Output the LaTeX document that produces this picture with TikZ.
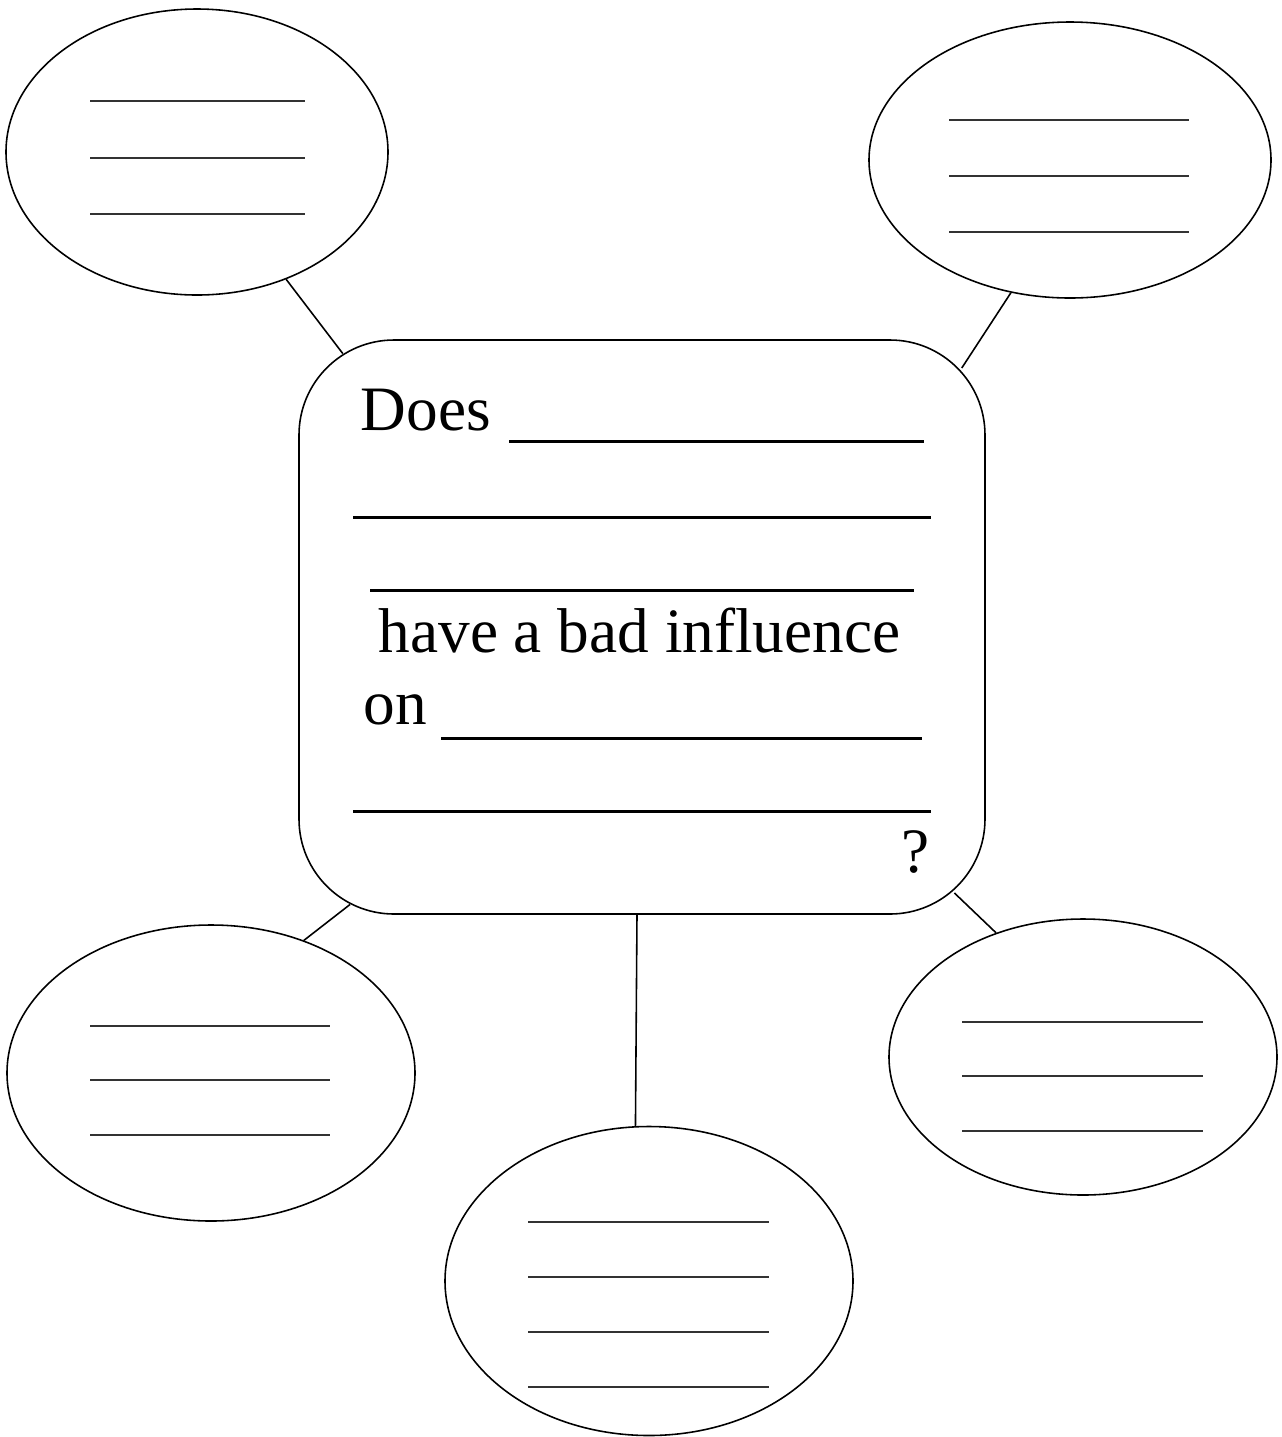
\documentclass[tikz,border=0pt]{standalone}
\usepackage{fontspec}
\setmainfont{Liberation Serif}
\usetikzlibrary{calc,shapes.geometric}

\begin{document}
\begin{tikzpicture}[
  blob/.style={draw, ellipse, inner sep=0pt, line width=0.45pt},
  qbox/.style={draw, rectangle, rounded corners=0.95cm, inner sep=0pt, line width=0.45pt,
    minimum width=6.86cm, minimum height=5.74cm},
  blank/.style={line width=0.45pt, black!80},
  fillin/.style={line width=0.85pt},
  words/.style={inner sep=0pt, anchor=base west, font=\fontsize{18}{22}\selectfont}
]
\useasboundingbox (0,0) rectangle (12.82,-14.37);

% the question box
\node[qbox] (question) at (6.42,-6.27) {};

% the five bubbles
\node[blob, minimum width=3.82cm, minimum height=2.86cm] (tl) at (1.97,-1.52) {};
\node[blob, minimum width=4.02cm, minimum height=2.76cm] (tr) at (10.70,-1.60) {};
\node[blob, minimum width=4.08cm, minimum height=2.96cm] (bl) at (2.11,-10.73) {};
\node[blob, minimum width=4.08cm, minimum height=3.09cm] (bc) at (6.49,-12.81) {};
\node[blob, minimum width=3.88cm, minimum height=2.76cm] (br) at (10.83,-10.57) {};

% connectors
\draw[line width=0.45pt] (tl.-55) -- ($(question.north west)+(0.95,-0.95)+(122:0.95)$);
\draw[line width=0.45pt] (tr.-114) -- ($(question.north east)+(-0.95,-0.95)+(43:0.97)$);
\draw[line width=0.45pt] (bl.55) -- ($(question.south west)+(0.95,0.95)+(243:0.95)$);
\draw[line width=0.45pt] (br.125) -- ($(question.south east)+(-0.95,0.95)+(-49:0.97)$);
\draw[line width=0.45pt] ($(question.south)+(-0.05,0)$) -- (bc.95);

% blanks in the bubbles
\foreach \y in {-1.01,-1.58,-2.14}
  \draw[blank] (0.90,\y) -- (3.05,\y);
\foreach \y in {-1.20,-1.76,-2.32}
  \draw[blank] (9.49,\y) -- (11.89,\y);
\foreach \y in {-10.26,-10.80,-11.35}
  \draw[blank] (0.90,\y) -- (3.30,\y);
\foreach \y in {-12.22,-12.77,-13.32,-13.87}
  \draw[blank] (5.28,\y) -- (7.69,\y);
\foreach \y in {-10.22,-10.76,-11.31}
  \draw[blank] (9.62,\y) -- (12.03,\y);

% text of the question
\node[words] (does) at (3.60,-4.30) {Does};
\node[words] (have) at (3.78,-6.52) {have a bad influence};
\node[words] (on) at (3.63,-7.24) {on};
\node[words] (qmark) at (9.01,-8.72) {?};

\draw[fillin] (5.09,-4.41) -- (9.24,-4.41);
\draw[fillin] (3.53,-5.17) -- (9.31,-5.17);
\draw[fillin] (3.70,-5.90) -- (9.14,-5.90);
\draw[fillin] (4.41,-7.38) -- (9.22,-7.38);
\draw[fillin] (3.53,-8.11) -- (9.31,-8.11);

\end{tikzpicture}
\end{document}
